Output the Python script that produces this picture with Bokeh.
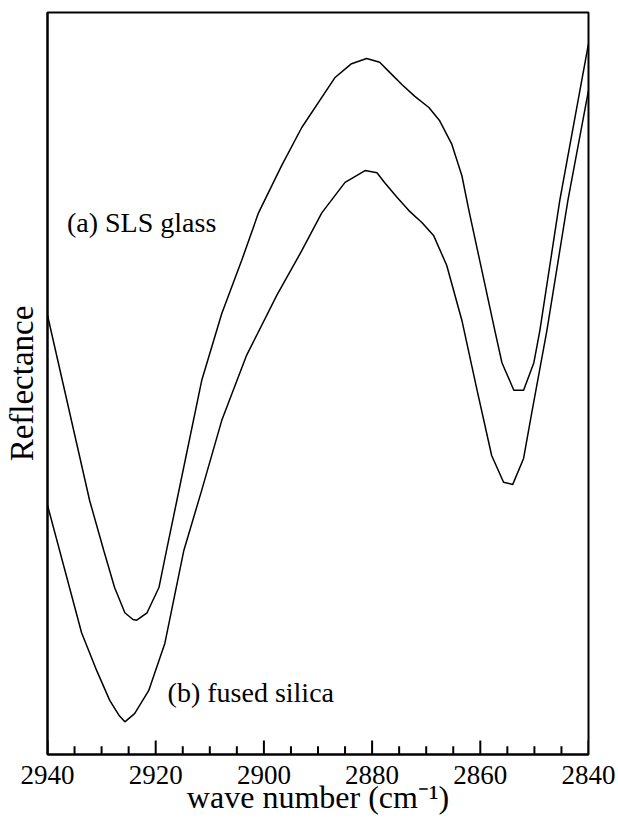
from bokeh.plotting import figure
from bokeh.models import Range1d, FixedTicker, Label
from bokeh.embed import file_html
from bokeh.resources import INLINE

# wave number (cm^-1) and reflectance (arbitrary units) for the two samples
wn_a = [2940.0, 2932.2, 2929.6, 2927.6, 2925.7, 2924.2, 2923.5, 2921.6, 2919.4, 2918.0,
        2916.1, 2911.5, 2907.8, 2904.1, 2901.0, 2896.7, 2893.0, 2886.9, 2883.8, 2881.0,
        2878.6, 2876.7, 2874.5, 2872.1, 2869.5, 2867.5, 2865.3, 2863.4, 2862.1, 2859.7,
        2857.3, 2856.0, 2853.8, 2852.0, 2850.1, 2849.0, 2845.3, 2840.0]
refl_a = [59.2, 34.2, 27.5, 22.5, 19.1, 18.2, 18.1, 19.1, 22.5, 27.5,
          34.2, 50.4, 59.4, 66.6, 73.0, 79.4, 84.5, 91.2, 93.1, 93.8,
          93.3, 91.9, 90.3, 88.7, 87.2, 85.4, 82.3, 78.0, 73.3, 65.2,
          57.1, 52.8, 49.1, 49.1, 52.8, 57.1, 74.7, 95.8]

wn_b = [2940.0, 2933.7, 2930.9, 2928.5, 2926.8, 2925.7, 2923.9, 2921.3, 2918.3, 2914.8,
        2911.5, 2907.8, 2903.2, 2897.6, 2893.0, 2889.3, 2885.0, 2881.3, 2879.1, 2877.7,
        2875.4, 2873.2, 2870.8, 2868.6, 2866.2, 2863.4, 2860.6, 2857.9, 2855.7, 2854.0,
        2852.0, 2850.5, 2847.7, 2843.8, 2840.0]
refl_b = [33.6, 16.4, 11.3, 7.3, 5.3, 4.4, 5.5, 8.6, 15.0, 27.5,
          35.6, 45.0, 53.8, 61.9, 67.9, 73.0, 77.1, 78.7, 78.4, 77.1,
          75.1, 73.3, 71.7, 69.9, 65.9, 58.5, 49.1, 40.3, 36.7, 36.4,
          39.9, 46.0, 57.1, 74.7, 89.5]

tick_major = [2940.0, 2920.0, 2900.0, 2880.0, 2860.0, 2840.0]
tick_minor = [2935.0, 2930.0, 2925.0, 2915.0, 2910.0, 2905.0, 2895.0, 2890.0, 2885.0,
              2875.0, 2870.0, 2865.0, 2855.0, 2850.0, 2845.0]

serif = "Liberation Serif"

p = figure(frame_width=541, frame_height=742, output_backend="svg", toolbar_location=None,
           x_range=Range1d(2940, 2840), y_range=Range1d(0, 100),
           min_border_left=46, min_border_right=31, min_border_top=12, min_border_bottom=68)
p.background_fill_color = "white"
p.border_fill_color = "white"
p.outline_line_color = "black"
p.outline_line_width = 2
p.grid.visible = False

p.line(wn_a, refl_a, line_color="black", line_width=1.5)
p.line(wn_b, refl_b, line_color="black", line_width=1.5)

# inward tick marks along the bottom axis (length in y data units: ~14 px and ~8 px)
p.segment(x0=tick_major, y0=[0.0] * len(tick_major), x1=tick_major, y1=[1.9] * len(tick_major),
          line_color="black", line_width=2)
p.segment(x0=tick_minor, y0=[0.0] * len(tick_minor), x1=tick_minor, y1=[1.1] * len(tick_minor),
          line_color="black", line_width=2)

xa = p.xaxis[0]
xa.ticker = FixedTicker(ticks=tick_major)
xa.major_tick_in = 0
xa.major_tick_out = 0
xa.minor_tick_in = 0
xa.minor_tick_out = 0
xa.axis_line_width = 2
xa.major_label_text_font = serif
xa.major_label_text_font_size = "27px"
xa.major_label_text_color = "black"
xa.major_label_standoff = 11
xa.axis_label = "wave number (cm\u207b\u00b9)"
xa.axis_label_text_font = serif
xa.axis_label_text_font_size = "32px"
xa.axis_label_text_font_style = "normal"
xa.axis_label_text_color = "black"
xa.axis_label_standoff = -8

ya = p.yaxis[0]
ya.ticker = FixedTicker(ticks=[])
ya.major_tick_out = 0
ya.minor_tick_out = 0
ya.axis_line_width = 2
ya.axis_label = "Reflectance"
ya.axis_label_text_font = serif
ya.axis_label_text_font_size = "33px"
ya.axis_label_text_font_style = "normal"
ya.axis_label_text_color = "black"
ya.axis_label_standoff = 8

p.add_layout(Label(x=2936.4, y=71.7, text="(a) SLS glass", text_font=serif,
                   text_font_size="28px", text_color="black", text_baseline="alphabetic"))
p.add_layout(Label(x=2917.8, y=8.4, text="(b) fused silica", text_font=serif,
                   text_font_size="28px", text_color="black", text_baseline="alphabetic"))

open("out.html", "w").write(file_html(p, INLINE))
